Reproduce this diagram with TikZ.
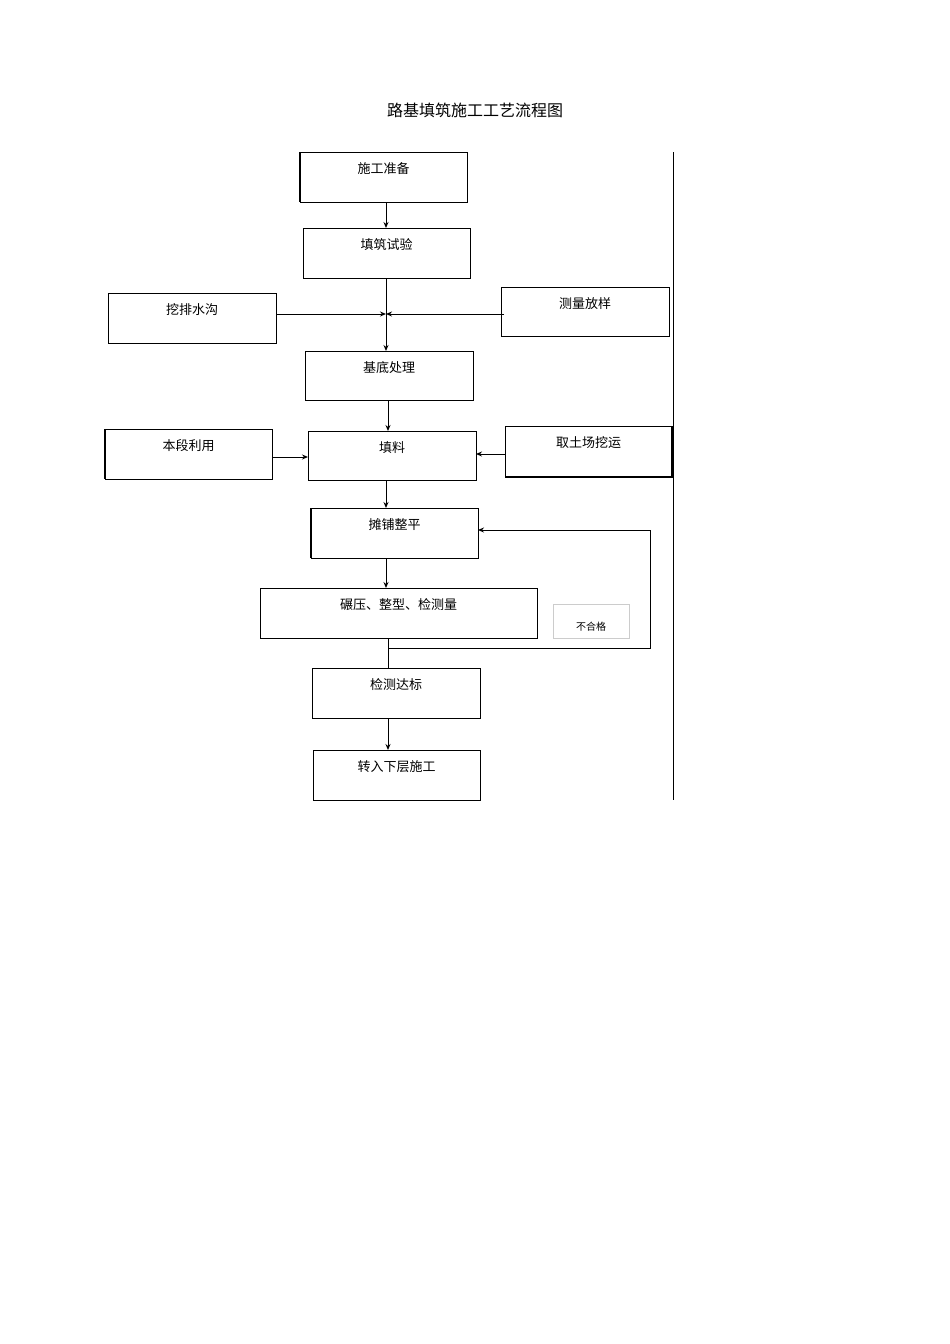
\documentclass[tikz,border=0pt]{standalone}
\usepackage{fontspec}
\newfontfamily\cjk{Noto Sans CJK SC}
\usetikzlibrary{arrows.meta}
\begin{document}
\begin{tikzpicture}[x=1pt,y=-1pt,
  bx/.style={draw,line width=0.8pt},
  lb/.style={font=\cjk\fontsize{13}{15}\selectfont,anchor=north},
  ar/.style={draw,line width=1pt,-{Stealth[length=6pt,width=5pt]}},
  ln/.style={draw,line width=0.8pt}]
\useasboundingbox (0,0) rectangle (950,1344);
\node[font=\cjk\fontsize{16}{18}\selectfont] (title) at (475,110) {路基填筑施工工艺流程图};
\newcommand\bbox[6]{\draw[bx] (#2,#3) rectangle (#4,#5); \node[lb] (#1) at ({(#2+#4)/2},#3+7) {#6}; \coordinate (#1nw) at (#2,#3); \coordinate (#1se) at (#4,#5);}
\bbox{a}{300}{152}{467}{202}{施工准备}
\bbox{b}{303}{228}{470}{278}{填筑试验}
\bbox{c}{108}{293}{276}{343}{挖排水沟}
\bbox{d}{501}{287}{669}{336}{测量放样}
\bbox{e}{305}{351}{473}{400}{基底处理}
\bbox{f}{105}{429}{272}{479}{本段利用}
\bbox{g}{308}{431}{476}{480}{填料}
\bbox{h}{505}{426}{672}{477}{取土场挖运}
\bbox{i}{311}{508}{478}{558}{摊铺整平}
\bbox{j}{260}{588}{537}{638}{碾压、整型、检测量}
\bbox{l}{312}{668}{480}{718}{检测达标}
\bbox{m}{313}{750}{480}{800}{转入下层施工}
\draw[line width=2pt] (300,152)--(300,202) (105,429)--(105,479) (672,426)--(672,477)--(505,477) (311,508)--(311,558);
\draw[gray!40] (553,604) rectangle (629,638);
\node[font=\cjk\fontsize{10}{12}\selectfont] (k) at (591,627) {不合格};
\draw[ln] (673,152)--(673,800);
\coordinate (m1) at (386,314);
\draw[ar] (386,202)--(386,228);
\draw[ln] (386,278)--(m1);
\draw[ar] (m1)--(386,351);
\draw[ar] (276,314)--(m1);
\draw[ar] (504,314)--(m1);
\draw[ar] (388,400)--(388,431);
\draw[ar] (272,457)--(308,457);
\draw[ar] (505,454)--(476,454);
\draw[ar] (386,480)--(386,508);
\draw[ar] (386,558)--(386,588);
\draw[ln] (388,638)--(388,668);
\draw[ln] (388,648)--(650,648)--(650,530);
\draw[ar] (650,530)--(478,530);
\draw[ar] (388,718)--(388,750);
\end{tikzpicture}
\end{document}
